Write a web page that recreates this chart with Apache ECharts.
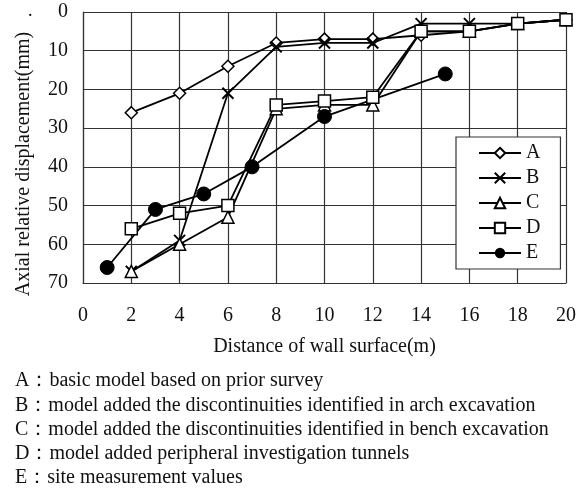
<!DOCTYPE html>
<html><head><meta charset="utf-8">
<script src="https://cdn.jsdelivr.net/npm/echarts@6/dist/echarts.min.js"></script>
<style>body{margin:0;background:#fff}#c{width:584px;height:490px}</style>
</head><body><div id="c"></div>
<script>
const seriesNames = ['A','B','C','D','E'];
const xA = [2,4,6,8,10,12,14,16,18,20];
const A = [26,21,14,8,7,7,6,5,3,2];
const B = [67,59,21,9,8,8,3,3,3,2];
const C = [67,60,53,25,24,24,5,5,3,2];
const D = [56,52,50,24,23,22,5,5,3,2];
const xE = [1,3,5,7,10,15];
const E = [66,51,47,40,27,16];
const yTitle = 'Axial relative displacement(mm)';
const notes = [
 'A\uFF1Abasic model based on prior survey',
 'B\uFF1Amodel added the discontinuities identified in arch excavation',
 'C\uFF1Amodel added the discontinuities identified in bench excavation',
 'D\uFF1Amodel added peripheral investigation tunnels',
 'E\uFF1Asite measurement values'
];
const font = 'Liberation Serif';
const pair = (xs, ys) => xs.map((x,i)=>[x, ys[i]]);
const hollow = {color:'#fff', borderColor:'#000', borderWidth:1.5};
const mk = (name, data, symbol, size, style) => ({
  name, type:'line', data, symbol, symbolSize:size,
  lineStyle:{color:'#000', width:1.8}, itemStyle:style, z: 3
});
const chart = echarts.init(document.getElementById('c'));
chart.setOption({
  animation:false,
  grid:{left:83, right:18, top:12, bottom:207},
  xAxis:{type:'value', min:0, max:20, interval:2,
    axisLine:{show:true, onZero:false, lineStyle:{color:'#333', width:1.2}},
    axisTick:{show:false},
    axisLabel:{color:'#111', fontFamily:font, fontSize:20, margin:23},
    splitLine:{show:true, lineStyle:{color:'#333', width:1.2}},
    name:'Distance of wall surface(m)', nameLocation:'middle', nameGap:54,
    nameTextStyle:{color:'#111', fontFamily:font, fontSize:20}
  },
  yAxis:{type:'value', min:0, max:70, interval:10, inverse:true,
    axisLine:{show:true, lineStyle:{color:'#333', width:1.2}},
    axisTick:{show:false},
    axisLabel:{color:'#111', fontFamily:font, fontSize:20, margin:15},
    splitLine:{show:true, lineStyle:{color:'#333', width:1.2}}
  },
  legend:{orient:'vertical', left:456, top:137,
    padding:[6,20,6,22], itemGap:5, itemWidth:42, itemHeight:13,
    backgroundColor:'#fff', borderColor:'#333', borderWidth:1.2,
    textStyle:{color:'#111', fontFamily:font, fontSize:20, padding:[0,0,0,0]},
    data:seriesNames
  },
  series:[
    mk('A', pair(xA,A), 'diamond', 12, hollow),
    mk('B', pair(xA,B), 'path://M0,0L10,10M10,0L0,10', 11, {color:'none', borderColor:'#000', borderWidth:2}),
    mk('C', pair(xA,C), 'triangle', 12, hollow),
    mk('D', pair(xA,D), 'rect', 12, hollow),
    mk('E', pair(xE,E), 'circle', 14, {color:'#000', borderColor:'#000'})
  ],
  graphic: notes.map((t,i)=>({type:'text', left:15, top:371 + i*24.25,
    style:{text:t, fill:'#111', font:'20px "Liberation Serif"'}})).concat([
    {type:'text', x:24, y:164, rotation:Math.PI/2,
      style:{text:yTitle, fill:'#111', font:'20px "Liberation Serif"', align:'center', verticalAlign:'middle'}},
    {type:'text', left:28, top:2, style:{text:'.', fill:'#111', font:'18px "Liberation Serif"'}}
  ])
});
</script></body></html>
